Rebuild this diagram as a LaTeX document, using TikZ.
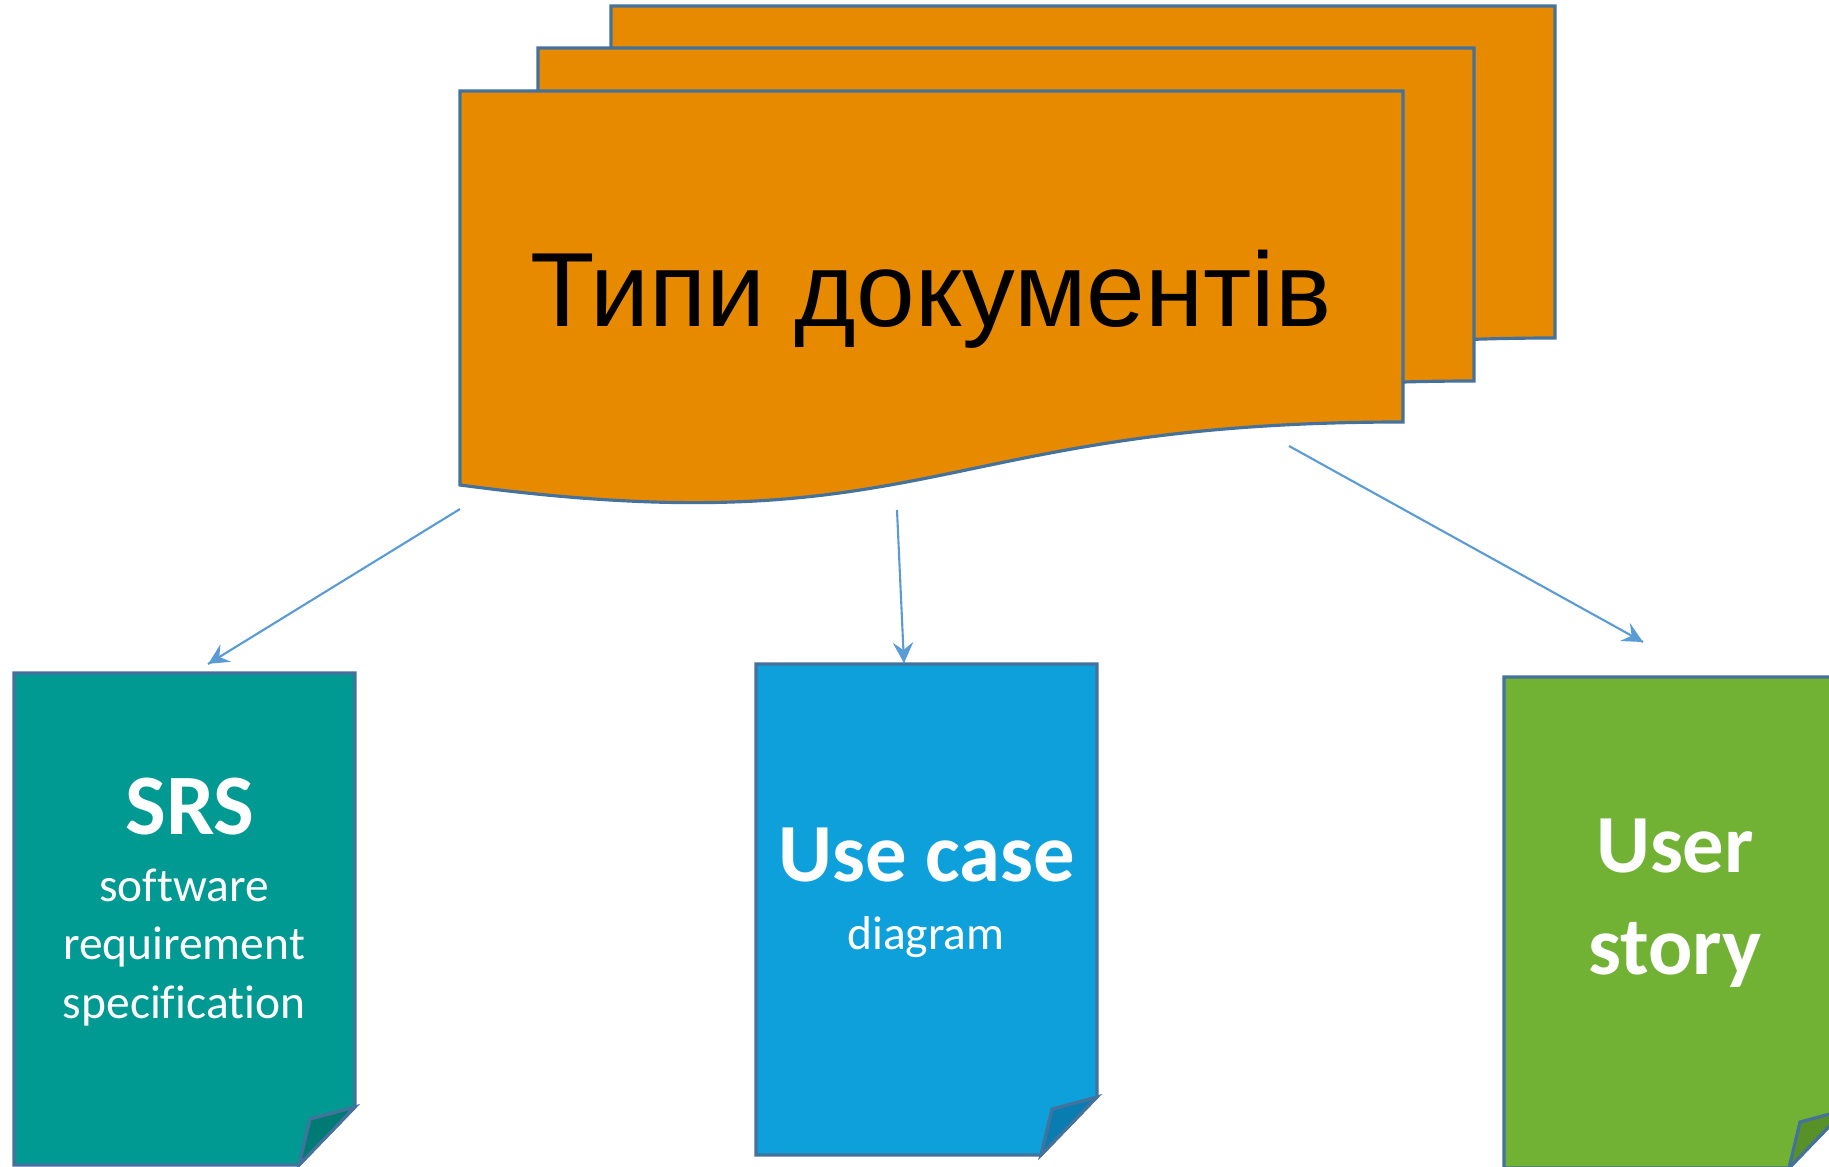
\documentclass[tikz,border=0pt]{standalone}
\usepackage{fontspec}
\setmainfont{Carlito}[Ligatures=NoCommon]
\newfontfamily\arialfont{Liberation Sans}
\usepackage{tikz}
\usetikzlibrary{calc}
\usetikzlibrary{arrows,decorations.markings}
\definecolor{docorange}{RGB}{232,138,0}
\definecolor{docline}{RGB}{68,114,156}
\definecolor{arrblue}{RGB}{91,155,213}
\definecolor{srsteal}{RGB}{0,154,147}
\definecolor{srsfold}{RGB}{0,122,116}
\definecolor{ucblue}{RGB}{14,160,219}
\definecolor{ucfold}{RGB}{10,125,176}
\definecolor{usgreen}{RGB}{113,178,53}
\definecolor{usfold}{RGB}{88,145,40}
\tikzset{
    sheet/.style n args={5}{    % left, right, top, right bottom, left bottom
        insert path={
            (#1,#3) -- (#2,#3) -- (#2,#4)
            .. controls ({(#1+#2)/2},#4) and ({(#1+#2)/2},#4+126) .. (#1,#5) -- cycle
        }
    },
    docbox/.style n args={4}{   % left, top, right, bottom
        insert path={
            (#1,#2) -- (#3,#2) -- (#3,#4-58) -- (#3-56,#4) -- (#1,#4) -- cycle
        }
    },
    docfold/.style n args={2}{  % right, bottom
        insert path={
            (#1,#2-58) -- (#1-45,#2-46) -- (#1-56,#2) -- cycle
        }
    },
    docedge/.style={draw=docline, line width=0.9pt, line join=miter},
    bigtext/.style={anchor=base, inner sep=0, text=white, font=\fontsize{23.5}{28}\selectfont\bfseries},
    smalltext/.style={anchor=base, inner sep=0, text=white, font=\fontsize{13.5}{16.5}\selectfont},
    arr/.style={line width=0.6pt, arrblue,
        decoration={markings,mark=at position 1 with {\arrow[scale=1.6,>=stealth]{>}}},postaction={decorate}}
}
\begin{document}
\begin{tikzpicture}[x=0.01cm,y=-0.01cm]
    \useasboundingbox (0,0) rectangle (1829,1167);
    \clip (0,0) rectangle (1829,1167);

    % stack of sheets
    \path[docedge, fill=docorange] [sheet={611}{1555}{6}{338}{401}];
    \path[docedge, fill=docorange] [sheet={538}{1474}{48}{381}{444}];
    \path[docedge, fill=docorange] [sheet={460}{1403}{91}{422}{485}];
    \node[anchor=base, inner sep=0, font=\arialfont\fontsize{30}{36}\selectfont] (T) at (931,327) {Типи документів};

    % documents
    \path[docedge, fill=srsteal] [docbox={14}{673}{355}{1165}];
    \path[docedge, fill=srsfold] [docfold={355}{1165}];
    \path[docedge, fill=ucblue] [docbox={756}{664}{1097}{1155}];
    \path[docedge, fill=ucfold] [docfold={1097}{1155}];
    \path[docedge, fill=usgreen] [docbox={1504}{677}{1845}{1168}];
    \path[docedge, fill=usfold] [docfold={1845}{1168}];

    \node[bigtext, font=\fontsize{24.5}{29}\selectfont\bfseries] (srs) at (190,835) {SRS};
    \node[smalltext] (srs1) at ($(srs.base)+(-6,67)$) {software};
    \node[smalltext] (srs2) at ($(srs1.base)+(0,58)$) {requirement};
    \node[smalltext] (srs3) at ($(srs2.base)+(0,58)$) {specification};

    \node[bigtext] (uc) at (927,882) {Use case};
    \node[smalltext] (uc1) at ($(uc.base)+(-1,67)$) {diagram};

    \node[bigtext] (us1) at (1675,873) {User};
    \node[bigtext] (us2) at ($(us1.base)+(0,102)$) {story};

    % arrows
    \coordinate (a1) at (460,509);
    \coordinate (b1) at (208,664);
    \coordinate (a2) at (897,510);
    \coordinate (b2) at (904,663);
    \coordinate (a3) at (1289,446);
    \coordinate (b3) at (1643,642);
    \draw[arr] (a1) -- (b1);
    \draw[arr] (a2) -- (b2);
    \draw[arr] (a3) -- (b3);

\end{tikzpicture}
\end{document}
